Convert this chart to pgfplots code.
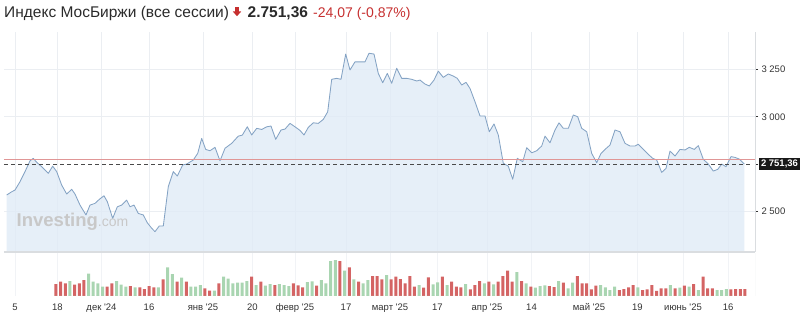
\documentclass[border=0pt]{standalone}
\usepackage{fontspec}
\setmainfont{Liberation Sans}[Ligatures=TeXOff]
\usepackage{pgfplots}
\usepackage{pgfplotstable}
\pgfplotsset{compat=1.18}
\definecolor{fillc}{HTML}{E1EBF6}
\definecolor{linec}{HTML}{84A3C4}
\definecolor{gridc}{HTML}{EBEEF2}
\definecolor{prevc}{HTML}{E09696}
\definecolor{dashc}{HTML}{4A4A4A}
\definecolor{redc}{HTML}{D46464}
\definecolor{greenc}{HTML}{A9D5B1}
\definecolor{labc}{HTML}{333333}
\definecolor{titlec}{HTML}{2A2A2A}
\definecolor{chgc}{HTML}{C62F2F}
\definecolor{bordc}{HTML}{DADDE0}
\definecolor{wmc}{HTML}{C8C8C8}

\pgfplotstableread{
x y
6.7 2588
11.7 2605
15 2614
20 2658
25 2711
30 2768
33.3 2781
36.7 2760
41.7 2737
48.3 2702
52.7 2740
56.7 2711
61.7 2640
66.7 2593
71.7 2618
75 2593
80 2535
86 2483
90 2535
95 2544
99.3 2565
104 2584
107.3 2553
112.7 2465
117.3 2526
121.7 2535
126.7 2561
130 2526
134 2535
138.3 2491
143.3 2483
147.3 2442
151.7 2413
155 2395
159.3 2425
163.3 2425
168.3 2632
173.3 2711
177.3 2688
182.7 2746
186.7 2751
193.3 2772
197.7 2807
201.7 2886
205.7 2828
210 2821
215 2839
220 2768
225 2834
231.7 2860
238.3 2898
242.3 2903
247.3 2947
251.7 2904
256.7 2939
261.7 2933
266.7 2947
271 2951
275.7 2881
281 2930
285 2935
290 2965
295 2947
300 2928
304 2904
308.3 2944
313.3 2968
318.3 2965
323.3 2986
327.7 3026
331.7 3197
336.7 3202
341 3197
345.7 3330
350 3246
355 3289
360 3289
365 3289
369 3334
374 3330
378.3 3228
382.7 3179
387.3 3228
391.7 3176
396.7 3255
401.7 3202
406.7 3202
411.7 3197
416.7 3188
420 3193
425 3172
429.3 3162
434 3193
438.3 3240
443.3 3207
448.3 3225
453.3 3214
457.3 3202
461.7 3167
466 3181
470 3149
475 3079
480 3004
485 3004
489.3 2921
494 2962
498.3 2904
503.3 2755
508.3 2740
512.7 2671
517.3 2781
522.7 2763
526.7 2837
531.7 2810
536.7 2821
541.7 2846
545 2898
550 2863
555 2930
559 2968
563.3 2939
568.3 2939
573.3 3009
577.7 3000
581.7 2939
586.7 2921
591.7 2807
596.7 2758
601 2807
605 2828
610 2851
615 2930
620 2921
625 2860
630 2846
635 2846
638.3 2855
643.3 2828
648.3 2802
652.7 2781
656.7 2772
661.7 2707
666 2728
670 2819
675 2793
680 2828
685 2825
689.3 2839
694.3 2828
698.3 2848
703.3 2776
708.3 2751
713.3 2714
717.7 2723
721.7 2751
726 2737
731 2790
735 2786
739.3 2777
744.3 2751.36
}\price

% volume (relative heights), g=1 green (up day), g=0 red
\pgfplotstableread{
v g
36 0
43 0
38 0
45 1
34 0
38 0
48 0
67 1
43 1
38 1
28 1
28 0
38 0
45 1
34 1
28 1
30 0
26 1
26 0
21 0
30 0
26 0
26 1
50 0
86 1
66 1
43 0
55 1
43 0
28 1
28 1
33 1
23 0
16 0
16 1
38 0
58 1
52 1
38 1
40 1
40 1
45 1
58 0
33 1
43 0
31 1
36 1
33 0
36 1
33 1
30 1
38 0
32 0
26 0
42 1
44 1
31 0
48 1
38 1
105 1
108 1
105 0
76 1
86 0
50 1
43 0
38 1
48 1
60 0
60 0
50 0
63 1
50 0
58 0
51 0
38 0
60 0
28 0
33 1
25 0
56 0
35 1
41 1
58 0
33 1
43 0
28 0
26 0
36 1
20 0
33 0
45 0
38 1
43 0
35 1
43 0
60 0
76 0
43 0
72 1
45 0
38 1
28 0
25 1
30 1
32 1
30 0
27 0
45 1
40 0
23 1
40 1
60 0
38 0
38 0
20 0
31 0
33 1
26 1
18 1
28 1
18 0
21 0
26 0
33 0
26 1
18 0
20 0
33 0
15 0
23 0
23 0
33 1
23 0
25 1
31 0
28 1
36 0
18 1
58 0
23 0
23 0
18 1
18 1
21 1
20 0
21 0
21 0
21 0
}\vol

\begin{document}
\begin{tikzpicture}[x=1pt,y=1pt]
\useasboundingbox (0,0) rectangle (809,316);

% header
\node[anchor=base west, inner sep=0pt, text=titlec, font=\fontsize{15.5}{16}\selectfont] at (4,298.7) {Индекс МосБиржи (все сессии)};
\fill[chgc] (235.2,308.5) rectangle (238.8,304);
\fill[chgc] (232.8,304.5) -- (241.2,304.5) -- (237,299.8) -- cycle;
\node[anchor=base west, inner sep=0pt, text=titlec, font=\bfseries\fontsize{15.5}{16}\selectfont] at (247.5,298.7) {2.751,36};
\node[anchor=base west, inner sep=0pt, text=chgc, font=\fontsize{14}{15}\selectfont] at (313,298.7) {-24,07 (-0,87\%)};

% price panel
\begin{axis}[
  at={(4pt,64pt)}, anchor=south west,
  scale only axis, width=751pt, height=220pt,
  xmin=4, xmax=755, ymin=2288, ymax=3446,
  axis line style={draw=none},
  clip mode=individual,
  xtick={15,57.5,101.5,149,203,252.5,295,346,390,437.5,487,531.5,589,637.5,683,728},
  xticklabels={},
  xtick style={draw=none},
  ytick={2500,3000,3250},
  yticklabels={{2 500},{3 000},{3 250}},
  extra y ticks={2750},
  extra y tick labels={},
  extra y tick style={grid=none},
  yticklabel pos=right,
  ytick pos=right,
  ytick style={color=labc, line width=0.5pt},
  tick align=outside, major tick length=3pt,
  xmajorgrids, ymajorgrids,
  grid style={color=gridc, line width=0.6pt},
  ticklabel style={font=\fontsize{9.5}{10}\selectfont, text=labc},
  yticklabel style={anchor=west, xshift=0pt},
]
\addplot[fill=fillc, fill opacity=0.82, draw=none] table[x=x,y=y]{\price} \closedcycle;
\addplot[draw=linec, line width=0.85pt, line join=round] table[x=x,y=y]{\price};
\addplot[prevc, line width=0.6pt] coordinates {(4,2775.43) (755,2775.43)};
\addplot[dashc, line width=0.8pt, dash pattern=on 4pt off 3pt] coordinates {(4,2751.36) (752,2751.36)};
\draw[bordc, line width=0.6pt] (rel axis cs:1,0) -- (rel axis cs:1,1);
\draw[bordc, line width=1.6pt] (rel axis cs:0,0) -- (rel axis cs:1,0);
\node[anchor=west, fill=black!90, text=white, inner xsep=2.5pt, inner ysep=2.2pt,
      font=\bfseries\fontsize{9.5}{10}\selectfont] at (axis cs:755,2751.36) [xshift=3.3pt] {2 751,36};
\end{axis}

% watermark
\node[anchor=base west, inner sep=0pt, text=wmc, font=\bfseries\fontsize{18.5}{19}\selectfont] at (16.5,89.5) {Investing\mdseries\fontsize{14}{15}\selectfont .com};

% volume panel
\begin{axis}[
  at={(4pt,20pt)}, anchor=south west,
  scale only axis, width=751pt, height=43pt,
  xmin=-11.17, xmax=150.16, ymin=0, ymax=129,
  axis line style={draw=none},
  ytick=\empty,
  xtick={-8.81,0.32,9.77,19.98,31.58,42.21,51.34,62.30,71.75,81.95,92.59,102.15,114.5,124.9,134.7,144.4},
  xticklabels={5,18,{дек \textquotesingle24},16,{янв \textquotesingle25},20,{февр \textquotesingle25},17,{март \textquotesingle25},17,{апр \textquotesingle25},14,{май \textquotesingle25},19,{июнь \textquotesingle25},16},
  xtick style={draw=none},
  xmajorgrids,
  grid style={color=gridc!70, line width=0.6pt},
  ticklabel style={font=\fontsize{9.5}{10}\selectfont, text=labc},
  xticklabel style={anchor=base, yshift=-15pt},
  typeset ticklabels with strut,
]
\addplot[ybar, bar width=3pt, bar shift=0pt, fill=redc, draw=none]
  table[x expr=\coordindex, y expr=\thisrow{v}*(1-\thisrow{g})]{\vol};
\addplot[ybar, bar width=3pt, bar shift=0pt, fill=greenc, draw=none]
  table[x expr=\coordindex, y expr=\thisrow{v}*\thisrow{g}]{\vol};
\draw[bordc, line width=0.7pt] (rel axis cs:-0.006,0) -- (rel axis cs:1,0);
\draw[bordc, line width=0.6pt] (rel axis cs:1,0) -- (rel axis cs:1,1);
\end{axis}
\end{tikzpicture}
\end{document}
